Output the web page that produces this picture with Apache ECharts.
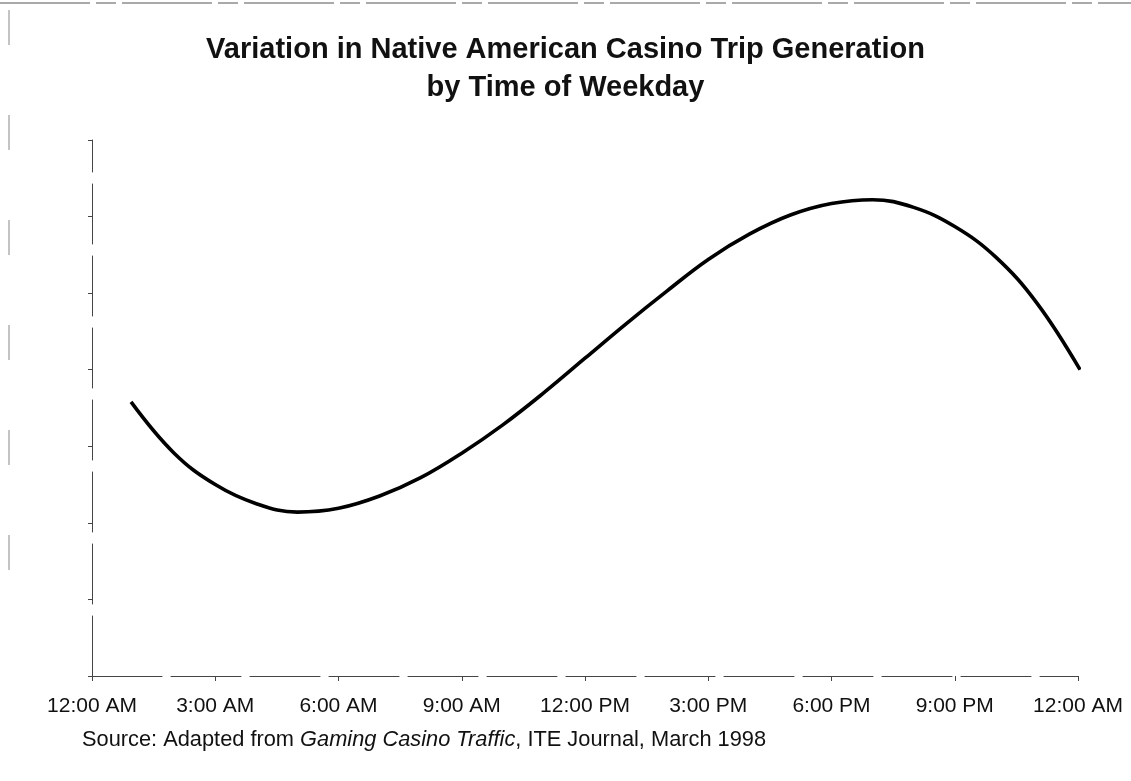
<!DOCTYPE html>
<html>
<head>
<meta charset="utf-8">
<script src="https://cdn.jsdelivr.net/npm/echarts@6/dist/echarts.min.js"></script>
<style>
html,body{margin:0;padding:0;background:#fff;}
#chart{width:1131px;height:781px;}
</style>
</head>
<body>
<div id="chart"></div>
<script>
// Time of day in hours (0 = 12:00 AM, 24 = 12:00 AM next day)
const hours = [0.95, 2, 3, 4, 5, 6, 7, 8, 9, 10, 11, 12, 13, 14, 15, 16, 17, 18, 19, 20, 21, 22, 23, 24.05];
// Relative trip generation (unlabelled axis units)
const tripLevel = [3.58, 2.91, 2.50, 2.25, 2.14, 2.19, 2.35, 2.59, 2.91, 3.28, 3.70, 4.15, 4.60, 5.03, 5.44, 5.77, 6.02, 6.17, 6.22, 6.12, 5.87, 5.47, 4.87, 4.00];
const tickLabels = ['12:00 AM', '3:00 AM', '6:00 AM', '9:00 AM', '12:00 PM', '3:00 PM', '6:00 PM', '9:00 PM', '12:00 AM'];
const titleLines = ['Variation in Native American Casino Trip Generation', 'by Time of Weekday'];
const sourceText = 'Source: Adapted from {i|Gaming Casino Traffic}, ITE Journal, March 1998';

const chart = echarts.init(document.getElementById('chart'), null, {renderer: 'canvas'});
const font = 'Liberation Sans, Arial, Helvetica, sans-serif';
const titleStyle = {fontFamily: font, fontSize: 29, fontWeight: 'bold', color: '#111'};

chart.setOption({
  backgroundColor: '#ffffff',
  animation: false,
  title: [{
    text: titleLines[0],
    left: 'center',
    top: 35,
    padding: 0,
    textStyle: titleStyle
  }, {
    text: titleLines[1],
    left: 'center',
    top: 73,
    padding: 0,
    textStyle: titleStyle
  }, {
    text: sourceText,
    left: 82,
    top: 729,
    padding: 0,
    textStyle: {
      fontFamily: font, fontSize: 21.8, fontWeight: 'normal', color: '#111',
      rich: {i: {fontFamily: font, fontSize: 21.8, fontStyle: 'italic', color: '#111'}}
    }
  }],
  grid: {left: 92, right: 53, top: 140, bottom: 105, containLabel: false},
  xAxis: {
    type: 'value',
    min: 0, max: 24, interval: 3,
    axisLine: {show: true, lineStyle: {color: '#444', width: 1, type: [70, 9]}},
    axisTick: {show: true, length: 5, lineStyle: {color: '#444'}},
    splitLine: {show: false},
    axisLabel: {
      margin: 20,
      fontFamily: font, fontSize: 21, color: '#111',
      formatter: function (v) { return tickLabels[Math.round(v / 3)]; }
    }
  },
  yAxis: {
    type: 'value',
    min: 0, max: 7, interval: 1,
    axisLine: {show: true, lineStyle: {color: '#444', width: 1, type: [60, 12]}},
    axisTick: {show: true, length: 4, lineStyle: {color: '#444'}},
    axisLabel: {show: false},
    splitLine: {show: false}
  },
  graphic: [
    {type: 'line', shape: {x1: 0, y1: 3, x2: 1131, y2: 3}, style: {stroke: '#555', lineWidth: 1, lineDash: [90, 6, 20, 6]}},
    {type: 'line', shape: {x1: 9, y1: 10, x2: 9, y2: 600}, style: {stroke: '#888', lineWidth: 1, lineDash: [35, 70]}}
  ],
  series: [{
    type: 'line',
    data: hours.map(function (h, i) { return [h, tripLevel[i]]; }),
    smooth: 0.4,
    showSymbol: false,
    lineStyle: {color: '#000', width: 3.6},
    silent: true
  }]
});
</script>
</body>
</html>
